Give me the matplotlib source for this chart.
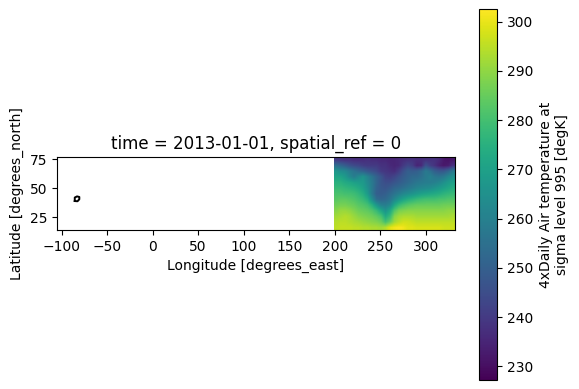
import numpy as np
import matplotlib.pyplot as plt

# air temperature, lat 75 -> 15, lon 200 -> 330
air = np.array([
    [240, 239, 238, 238, 237, 237, 237, 238, 237, 237, 236, 236, 235, 235, 236, 237, 238, 238, 237, 237, 238, 238, 238, 236, 232, 231, 232],
    [254, 252, 249, 246, 244, 243, 241, 240, 240, 240, 238, 238, 236, 235, 236, 240, 243, 241, 235, 236, 246, 241, 238, 234, 232, 233, 238],
    [267, 264, 263, 259, 256, 253, 251, 248, 246, 244, 240, 239, 238, 237, 241, 246, 250, 249, 250, 253, 258, 255, 250, 248, 248, 252, 258],
    [271, 271, 268, 263, 259, 263, 266, 261, 256, 251, 247, 242, 241, 243, 246, 249, 251, 253, 253, 255, 258, 260, 257, 256, 258, 262, 265],
    [275, 275, 273, 272, 270, 269, 268, 263, 258, 252, 247, 245, 245, 247, 249, 251, 253, 255, 257, 258, 259, 259, 260, 262, 265, 268, 270],
    [278, 278, 277, 276, 275, 273, 270, 265, 258, 251, 248, 247, 249, 252, 253, 255, 257, 259, 261, 262, 263, 264, 266, 268, 270, 272, 274],
    [281, 281, 280, 280, 279, 277, 274, 268, 258, 250, 249, 250, 253, 256, 259, 262, 264, 266, 268, 270, 271, 272, 273, 274, 276, 277, 278],
    [283, 284, 284, 283, 282, 280, 278, 274, 264, 254, 252, 253, 256, 262, 267, 271, 274, 276, 278, 279, 280, 280, 280, 281, 281, 282, 282],
    [286, 287, 287, 286, 285, 283, 282, 280, 275, 267, 260, 259, 262, 272, 278, 281, 283, 284, 285, 285, 285, 285, 285, 285, 286, 286, 286],
    [289, 291, 291, 290, 288, 286, 285, 284, 282, 278, 272, 266, 272, 282, 287, 288, 289, 289, 289, 289, 289, 289, 289, 289, 289, 290, 290],
    [292, 293, 294, 293, 291, 289, 288, 287, 286, 284, 281, 273, 278, 289, 292, 293, 293, 293, 292, 292, 292, 292, 292, 292, 292, 292, 293],
    [294, 295, 295, 294, 293, 292, 291, 290, 289, 288, 286, 280, 285, 292, 295, 297, 297, 296, 295, 295, 295, 295, 295, 295, 295, 295, 295],
    [295, 296, 296, 296, 295, 295, 294, 294, 293, 293, 292, 294, 299, 301, 302, 301, 299, 299, 298, 298, 298, 298, 298, 298, 297, 297, 297],
])
ring_lon = [-85.5, -82.5, -80.5, -80.5, -83, -85.5, -85.5]
ring_lat = [39, 38.8, 40.5, 42.5, 43, 42, 39]
x_ticks = [-100, -50, 0, 50, 100, 150, 200, 250, 300]
y_ticks = [25, 50, 75]
cbar_ticks = [230, 240, 250, 260, 270, 280, 290, 300]

fig = plt.figure(figsize=(5.79, 3.89), dpi=100)
ax = fig.add_axes([57 / 579, 1 - 230 / 389, 398 / 579, 73 / 389])
cax = fig.add_axes([479 / 579, 1 - 380 / 389, 18 / 579, 371 / 389])

im = ax.imshow(air, extent=[198.75, 331.25, 13.75, 76.25], aspect='auto',
               cmap='viridis', vmin=227.2, vmax=302.6, interpolation='bilinear')
ax.plot(ring_lon, ring_lat, color='black', lw=1.4)
ax.set_xlim(-105, 332)
ax.set_ylim(14, 77)
ax.set_xticks(x_ticks)
ax.set_yticks(y_ticks)
ax.set_xlabel('Longitude [degrees_east]')
ax.set_ylabel('Latitude [degrees_north]')
ax.set_title('time = 2013-01-01, spatial_ref = 0')

cbar = fig.colorbar(im, cax=cax, ticks=cbar_ticks)
cbar.set_label('4xDaily Air temperature at\nsigma level 995 [degK]')

fig.savefig('out.png', dpi=100)
